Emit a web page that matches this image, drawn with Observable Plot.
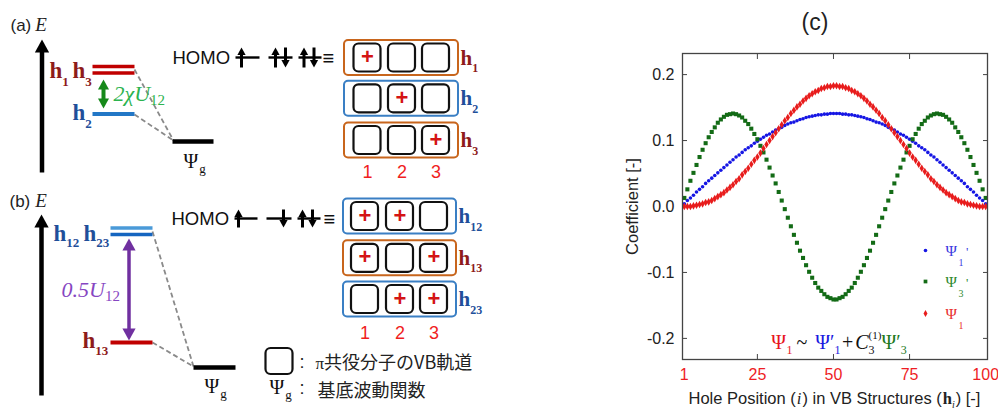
<!DOCTYPE html>
<html><head><meta charset="utf-8">
<script src="https://cdn.jsdelivr.net/npm/d3@7"></script>
<script src="https://cdn.jsdelivr.net/npm/@observablehq/plot@0.6"></script>
<style>
html,body{margin:0;padding:0;background:#fff;}
#wrap{position:relative;width:998px;height:412px;overflow:hidden;background:#fff;}
#left{position:absolute;left:0;top:0;width:600px;height:412px;}
#right{position:absolute;left:600px;top:0;width:398px;height:412px;}
</style></head>
<body><div id="wrap"><div id="left"></div><div id="right"></div></div>
<script>
// ================= DATA : chart (c) =================
const holePosition = d3.range(1, 101);
const psi1Prime = [
0.004,0.009,0.013,0.017,0.022,0.026,0.030,0.035,0.039,0.043,
0.047,0.051,0.055,0.059,0.063,0.067,0.071,0.075,0.078,0.082,
0.086,0.089,0.092,0.096,0.099,0.102,0.105,0.108,0.110,0.113,
0.116,0.118,0.120,0.123,0.125,0.127,0.128,0.130,0.132,0.133,
0.135,0.136,0.137,0.138,0.139,0.139,0.140,0.140,0.141,0.141,
0.141,0.141,0.140,0.140,0.139,0.139,0.138,0.137,0.136,0.135,
0.133,0.132,0.130,0.128,0.127,0.125,0.123,0.120,0.118,0.116,
0.113,0.110,0.108,0.105,0.102,0.099,0.096,0.092,0.089,0.086,
0.082,0.078,0.075,0.071,0.067,0.063,0.059,0.055,0.051,0.047,
0.043,0.039,0.035,0.030,0.026,0.022,0.017,0.013,0.009,0.004];
const psi3Prime = [
0.013,0.026,0.039,0.051,0.063,0.075,0.086,0.096,0.105,0.113,
0.120,0.127,0.132,0.136,0.139,0.140,0.141,0.140,0.138,0.135,
0.130,0.125,0.118,0.110,0.102,0.092,0.082,0.071,0.059,0.047,
0.035,0.022,0.009,-0.004,-0.017,-0.030,-0.043,-0.055,-0.067,-0.078,
-0.089,-0.099,-0.108,-0.116,-0.123,-0.128,-0.133,-0.137,-0.139,-0.141,
-0.141,-0.139,-0.137,-0.133,-0.128,-0.123,-0.116,-0.108,-0.099,-0.089,
-0.078,-0.067,-0.055,-0.043,-0.030,-0.017,-0.004,0.009,0.022,0.035,
0.047,0.059,0.071,0.082,0.092,0.102,0.110,0.118,0.125,0.130,
0.135,0.138,0.140,0.141,0.140,0.139,0.136,0.132,0.127,0.120,
0.113,0.105,0.096,0.086,0.075,0.063,0.051,0.039,0.026,0.013];
const psi1 = [
0.000,0.000,0.000,0.001,0.002,0.003,0.004,0.006,0.007,0.009,
0.012,0.015,0.018,0.021,0.025,0.029,0.033,0.038,0.042,0.048,
0.053,0.058,0.064,0.070,0.075,0.081,0.088,0.094,0.100,0.106,
0.112,0.118,0.124,0.130,0.135,0.141,0.146,0.151,0.155,0.160,
0.164,0.168,0.171,0.174,0.176,0.179,0.180,0.182,0.182,0.183,
0.183,0.182,0.182,0.180,0.179,0.176,0.174,0.171,0.168,0.164,
0.160,0.155,0.151,0.146,0.141,0.135,0.130,0.124,0.118,0.112,
0.106,0.100,0.094,0.088,0.081,0.075,0.070,0.064,0.058,0.053,
0.048,0.042,0.038,0.033,0.029,0.025,0.021,0.018,0.015,0.012,
0.009,0.007,0.006,0.004,0.003,0.002,0.001,0.000,0.000,0.000];
const yTicks = [-0.2, -0.1, 0, 0.1, 0.2];
const xTickLabels = [1, 25, 50, 75, 100];
const xInnerTicks = [25, 50, 75];
const seriesNames = ["Ψ1'", "Ψ3'", "Ψ1"];

// ================= DATA : diagrams (a), (b) — schematic =================
const holesA = [[1], [2], [3]];            // hole positions of h1, h2, h3
const holesB = [[1, 2], [1, 3], [2, 3]];   // h12, h13, h23
const rowNamesA = [["h", "1"], ["h", "2"], ["h", "3"]];
const rowNamesB = [["h", "12"], ["h", "13"], ["h", "23"]];
const colNumbers = ["1", "2", "3"];

// ================= styling constants =================
const SANS = '"Liberation Sans", Arial, sans-serif';
const SERIF = '"Liberation Serif", "Times New Roman", serif';
const CJK = '"Noto Sans CJK JP", sans-serif';
const DARKRED = "#8e1b1b", DBLUE = "#1f4f9a", ORANGE = "#c8651c", BOXBLUE = "#3a7fc4";
const NUMRED = "#f01e1e", PLUSRED = "#d41414";

// ---------- rich text helper (measured segment layout) ----------
const mctx = document.createElement("canvas").getContext("2d");
function segWidth(s) {
  mctx.font = `${s.style || "normal"} ${s.weight || "normal"} ${s.size}px ${s.family}`;
  return mctx.measureText(s.t).width;
}
function rich(x, y, segs, base = {}) {
  let cx = x; const out = [];
  for (const s0 of segs) {
    const s = {...base, ...s0};
    const px = cx + (s.dx || 0);
    out.push({...s, x: px, y: y + (s.dy || 0)});
    if (!s.overlay) cx = px + segWidth(s);
  }
  return out;
}
function textMark(it, frame) {
  const o = {text: "t", fontFamily: it.family, fontSize: it.size, fontWeight: it.weight || "normal",
    fontStyle: it.style || "normal", fill: it.fill || "#111", textAnchor: it.anchor || "start",
    lineAnchor: it.line || "bottom"};
  if (frame) return Plot.text([it], {...o, frameAnchor: "top-left", dx: it.x - frame.left, dy: it.y - frame.top});
  return Plot.text([it], {...o, x: "x", y: "y"});
}

// ---------- arrow-head symbols (tip at origin) ----------
const headUp = {draw(c, size) { const h = Math.sqrt(size / Math.PI); c.moveTo(0, 0); c.lineTo(h * 0.55, h); c.lineTo(-h * 0.55, h); c.closePath(); }};
const headDown = {draw(c, size) { const h = Math.sqrt(size / Math.PI); c.moveTo(0, 0); c.lineTo(h * 0.55, -h); c.lineTo(-h * 0.55, -h); c.closePath(); }};

// ================= diagram layout =================
const levelBars = [
  {x1: 92, x2: 134, y: 66, c: "#c00000", w: 3.6},
  {x1: 92, x2: 134, y: 72.5, c: "#c00000", w: 3.6},
  {x1: 92, x2: 134, y: 113.5, c: "#2277c6", w: 4},
  {x1: 172, x2: 213, y: 141, c: "#000", w: 4.6},
  {x1: 110, x2: 152, y: 227.5, c: "#4a9ad8", w: 3.4},
  {x1: 110, x2: 152, y: 234, c: "#1565c0", w: 3.4},
  {x1: 110, x2: 152, y: 342, c: "#c00000", w: 4},
  {x1: 193, x2: 235, y: 367, c: "#000", w: 4.6}
];
const connectors = [
  {x1: 134, y1: 69, x2: 173, y2: 140}, {x1: 134, y1: 114, x2: 173, y2: 140},
  {x1: 152, y1: 231, x2: 193, y2: 366}, {x1: 152, y1: 342, x2: 193, y2: 366}
];
const eAxes = [{x: 41.5, top: 39, bottom: 172}, {x: 41, top: 214, bottom: 395}];
const gapArrows = [
  {x: 103, top: 79, bottom: 108, c: "#16891a", h: 10, w: 4},
  {x: 128.5, top: 238, bottom: 340, c: "#7030a0", h: 12, w: 3.5}
];
const orbitals = [
  {x1: 235, x2: 259, y: 57}, {x1: 268, x2: 292, y: 57}, {x1: 298, x2: 321, y: 57},
  {x1: 234, x2: 257, y: 218}, {x1: 266, x2: 291, y: 218}, {x1: 297, x2: 320, y: 218}
];
const electrons = [
  {x: 241, y: 57, dir: 1, half: 10}, {x: 275, y: 57, dir: 1, half: 10}, {x: 285, y: 57, dir: -1, half: 10},
  {x: 303.5, y: 57, dir: 1, half: 10}, {x: 313.5, y: 57, dir: -1, half: 10},
  {x: 238, y: 218, dir: 1, half: 9}, {x: 283, y: 218, dir: -1, half: 9},
  {x: 302, y: 218, dir: 1, half: 9}, {x: 312, y: 218, dir: -1, half: 9}
];
const panels = [
  {holes: holesA, names: rowNamesA, colors: [ORANGE, BOXBLUE, ORANGE], labCol: [DARKRED, DBLUE, DARKRED],
   rows: [57.5, 98.3, 140], cols: [367, 401.5, 435.5], left: 344, right: 458, numY: 177},
  {holes: holesB, names: rowNamesB, colors: [BOXBLUE, ORANGE, BOXBLUE], labCol: [DBLUE, DARKRED, DBLUE],
   rows: [216, 257.8, 299], cols: [364.5, 399.5, 433.5], left: 343, right: 456, numY: 338}
];
const outerBoxes = [], innerBoxes = [], pluses = [], diagramText = [];
for (const p of panels) {
  p.rows.forEach((ry, r) => {
    outerBoxes.push({x1: p.left, x2: p.right, y1: ry - 17.5, y2: ry + 17.5, c: p.colors[r]});
    p.cols.forEach((cx, c) => {
      innerBoxes.push({x1: cx - 13.5, x2: cx + 13.5, y1: ry - 14, y2: ry + 14});
      if (p.holes[r].includes(c + 1)) pluses.push({x: cx, y: ry});
    });
    diagramText.push(...rich(p.right + 2, ry + 6.5, [
      {t: p.names[r][0], size: 21}, {t: p.names[r][1], size: 12, dy: 7.5, dx: 0}],
      {family: SERIF, weight: "bold", fill: p.labCol[r]}));
  });
  colNumbers.forEach((n, c) => diagramText.push({t: n, x: p.cols[c], y: p.numY, family: SANS, size: 18, fill: NUMRED, anchor: "middle"}));
}
const lab = (segs, x, y, base) => diagramText.push(...rich(x, y, segs, base));
// panel titles
lab([{t: "(a)", family: SANS, size: 17, fill: "#222"}, {t: "E", family: SERIF, style: "italic", size: 19, dx: 4, fill: "#222"}], 10, 30);
lab([{t: "(b)", family: SANS, size: 17, fill: "#222"}, {t: "E", family: SERIF, style: "italic", size: 19, dx: 5, fill: "#222"}], 9, 206);
// level labels
const hb = {family: SERIF, weight: "bold"};
lab([{t: "h", size: 23}, {t: "1", size: 13, dy: 8}], 49, 77, {...hb, fill: DARKRED});
lab([{t: "h", size: 23}, {t: "3", size: 13, dy: 8}], 72, 77, {...hb, fill: DARKRED});
lab([{t: "h", size: 23}, {t: "2", size: 13, dy: 8}], 72, 119, {...hb, fill: DBLUE});
lab([{t: "h", size: 23}, {t: "12", size: 13, dy: 6}], 53, 240, {...hb, fill: DBLUE});
lab([{t: "h", size: 23}, {t: "23", size: 13, dy: 6}], 83, 240, {...hb, fill: DBLUE});
lab([{t: "h", size: 23}, {t: "13", size: 13, dy: 7}], 82, 347, {...hb, fill: DARKRED});
lab([{t: "2χU", style: "italic", size: 22}, {t: "12", size: 15, dy: 4}], 113, 100, {family: SERIF, fill: "#2db34f"});
lab([{t: "0.5U", style: "italic", size: 22}, {t: "12", size: 15, dy: 4}], 61, 296, {family: SERIF, fill: "#8646c2"});
lab([{t: "Ψ", size: 20}, {t: "g", size: 13, dy: 5, dx: 1}], 183, 167, {family: SERIF, fill: "#111"});
lab([{t: "Ψ", size: 20}, {t: "g", size: 13, dy: 5, dx: 1}], 204, 392, {family: SERIF, fill: "#111"});
// HOMO rows
lab([{t: "HOMO", size: 18.5}], 172, 63, {family: SANS, fill: "#111"});
lab([{t: "HOMO", size: 18.5}], 171, 224, {family: SANS, fill: "#111"});
lab([{t: "≡", size: 20}], 322, 64, {family: SANS, fill: "#111"});
lab([{t: "≡", size: 20}], 323, 225, {family: SANS, fill: "#111"});
// legend of symbols
lab([{t: ":", family: SANS, size: 18}], 299, 367, {fill: "#222"});
lab([{t: "π", family: SERIF, size: 17}, {t: "共役分子のVB軌道", family: CJK, size: 18}], 315, 368, {fill: "#222"});
lab([{t: "Ψ", size: 20}, {t: "g", size: 13, dy: 5, dx: 1}], 269, 393, {family: SERIF, fill: "#111"});
lab([{t: ":", family: SANS, size: 18}], 299, 393, {fill: "#222"});
lab([{t: "基底波動関数", family: CJK, size: 18}], 317, 396, {fill: "#222"});
const legendSquare = [{x1: 265.5, x2: 292.5, y1: 348, y2: 374}];

const diagram = Plot.plot({
  width: 600, height: 412, margin: 0,
  x: {type: "identity", axis: null}, y: {type: "identity", axis: null},
  color: {type: "identity"}, r: {type: "identity"},
  style: {background: "white"},
  marks: [
    Plot.link(connectors, {x1: "x1", y1: "y1", x2: "x2", y2: "y2", stroke: "#8a8a8a", strokeWidth: 1.8, strokeDasharray: "5,3"}),
    Plot.link(levelBars, {x1: "x1", x2: "x2", y1: "y", y2: "y", stroke: "c", strokeWidth: "w"}),
    Plot.link(eAxes, {x1: "x", x2: "x", y1: d => d.top + 11, y2: "bottom", stroke: "#000", strokeWidth: 4.5}),
    Plot.dot(eAxes, {x: "x", y: "top", r: 13, symbol: headUp, fill: "#000", stroke: null}),
    Plot.link(gapArrows, {x1: "x", x2: "x", y1: d => d.top + d.h - 1, y2: d => d.bottom - d.h + 1, stroke: "c", strokeWidth: "w"}),
    Plot.dot(gapArrows, {x: "x", y: "top", r: "h", symbol: headUp, fill: "c", stroke: null}),
    Plot.dot(gapArrows, {x: "x", y: "bottom", r: "h", symbol: headDown, fill: "c", stroke: null}),
    Plot.link(orbitals, {x1: "x1", x2: "x2", y1: "y", y2: "y", stroke: "#000", strokeWidth: 2.4}),
    Plot.link(electrons, {x1: "x", x2: "x", y1: d => d.dir > 0 ? d.y - d.half + 6 : d.y - d.half, y2: d => d.dir > 0 ? d.y + d.half : d.y + d.half - 6, stroke: "#000", strokeWidth: 3}),
    Plot.dot(electrons.filter(d => d.dir > 0), {x: "x", y: d => d.y - d.half, r: 7.5, symbol: headUp, fill: "#000", stroke: null}),
    Plot.dot(electrons.filter(d => d.dir < 0), {x: "x", y: d => d.y + d.half, r: 7.5, symbol: headDown, fill: "#000", stroke: null}),
    Plot.rect(outerBoxes, {x1: "x1", x2: "x2", y1: "y1", y2: "y2", stroke: "c", fill: "none", strokeWidth: 2, rx: 4}),
    Plot.rect(innerBoxes, {x1: "x1", x2: "x2", y1: "y1", y2: "y2", stroke: "#111", fill: "none", strokeWidth: 2.2, rx: 5}),
    Plot.rect(legendSquare, {x1: "x1", x2: "x2", y1: "y1", y2: "y2", stroke: "#111", fill: "none", strokeWidth: 2.2, rx: 5}),
    Plot.text(pluses, {x: "x", y: "y", text: () => "+", fill: PLUSRED, fontSize: 22, fontWeight: "bold", fontFamily: SANS, dy: -1}),
    ...diagramText.map(it => textMark(it))
  ]
});
document.getElementById("left").appendChild(diagram);

// ================= chart (c) =================
const FR = {left: 82, top: 53};
const colors = ["#1616e4", "#136b16", "#e81c1c"];
const table = holePosition.flatMap((i, k) => [
  {i, v: psi1Prime[k], s: seriesNames[0]},
  {i, v: psi3Prime[k], s: seriesNames[1]},
  {i, v: psi1[k], s: seriesNames[2]}
]);
const chartText = [];
chartText.push({t: "(c)", x: 214.5, y: 29, family: SANS, size: 23, fill: "#222", anchor: "middle"});
chartText.push(...rich(88, 403, [
  {t: "Hole Position (", family: SANS, size: 16.5},
  {t: "i", family: SERIF, style: "italic", size: 16.5, dx: 1},
  {t: ") in VB Structures (", family: SANS, size: 16.5, dx: 1},
  {t: "h", family: SERIF, weight: "bold", size: 16.5, dx: 1},
  {t: "i", family: SERIF, style: "italic", size: 10, dy: 4},
  {t: ") [-]", family: SANS, size: 16.5, dx: 1}], {fill: "#222"}));
const legendCol = ["#3b3be0", "#2f8a2f", "#e83030"];
[255, 286.5, 318].forEach((by, k) => chartText.push(...rich(345, by, [
  {t: "Ψ", size: 15.5}, {t: seriesNames[k][1], size: 10, dx: 1.5, dy: 10},
  ...(seriesNames[k].endsWith("'") ? [{t: "'", size: 13, dx: 2.5}] : [])],
  {family: SERIF, fill: legendCol[k]})));
chartText.push(...rich(170.7, 348, [
  {t: "Ψ", size: 20, fill: "#e8141c"}, {t: "1", size: 12, dy: 5, dx: 0.5, fill: "#e8141c"},
  {t: "~", size: 20, dx: 4, fill: "#111"},
  {t: "Ψ′", size: 20, dx: 8, fill: "#1a1ae0"}, {t: "1", size: 12, dx: 0, dy: 5, fill: "#1a1ae0"},
  {t: "+", size: 20, dx: 1.5, fill: "#111"},
  {t: "C", size: 20, style: "italic", dx: 2, fill: "#111"},
  {t: "(1)", size: 11, dy: -10, overlay: true, fill: "#111"}, {t: "3", size: 12, dy: 5, fill: "#111"},
  {t: "Ψ′", size: 20, dx: 7, fill: "#1e7a1e"}, {t: "3", size: 12, dx: 0, dy: 5, fill: "#1e7a1e"}],
  {family: SERIF}));

const chart = Plot.plot({
  width: 398, height: 412,
  marginLeft: FR.left, marginRight: 11, marginTop: FR.top, marginBottom: 53,
  style: {fontFamily: SANS, fontSize: "16px", color: "#222", background: "white"},
  x: {domain: [0.4, 100.6]},
  y: {domain: [-0.232, 0.232]},
  marks: [
    Plot.axisY({ticks: yTicks, tickFormat: d => d.toFixed(1), tickSize: -5, tickPadding: 13, label: null, fontSize: 16, stroke: "#444", fill: "#222"}),
    Plot.axisY({anchor: "right", ticks: yTicks, tickSize: -5, fill: "none", label: null, stroke: "#444"}),
    Plot.axisX({ticks: xTickLabels, tickSize: 0, tickPadding: 9, label: null, fontSize: 16, fill: "#ee1d24"}),
    Plot.axisX({ticks: xInnerTicks, tickSize: -5, fill: "none", label: null, stroke: "#444"}),
    Plot.axisX({anchor: "top", ticks: xInnerTicks, tickSize: -5, fill: "none", label: null, stroke: "#444"}),
    Plot.dot(table.filter(d => d.s === seriesNames[0]), {x: "i", y: "v", r: 1.8, fill: colors[0], stroke: null}),
    Plot.dot(table.filter(d => d.s === seriesNames[1]), {x: "i", y: "v", r: 2.3, symbol: "square", fill: colors[1], stroke: null}),
    Plot.dot(table.filter(d => d.s === seriesNames[2]), {x: "i", y: "v", r: 2.3, symbol: "diamond", fill: colors[2], stroke: null}),
    Plot.frame({stroke: "#444", strokeWidth: 1.3}),
    Plot.dot([seriesNames[0]], {frameAnchor: "top-left", dx: 243, dy: 197, r: 1.8, fill: colors[0], stroke: null}),
    Plot.dot([seriesNames[1]], {frameAnchor: "top-left", dx: 243, dy: 228, r: 2.1, symbol: "square", fill: colors[1], stroke: null}),
    Plot.dot([seriesNames[2]], {frameAnchor: "top-left", dx: 243, dy: 260, r: 2.1, symbol: "diamond", fill: colors[2], stroke: null}),
    Plot.text(["Coefficient [-]"], {frameAnchor: "left", dx: -50, rotate: -90, fontSize: 16.5, fontFamily: SANS, fill: "#222", textAnchor: "middle", lineAnchor: "middle"}),
    ...chartText.map(it => textMark(it, FR))
  ]
});
document.getElementById("right").appendChild(chart);
</script>
</body></html>
